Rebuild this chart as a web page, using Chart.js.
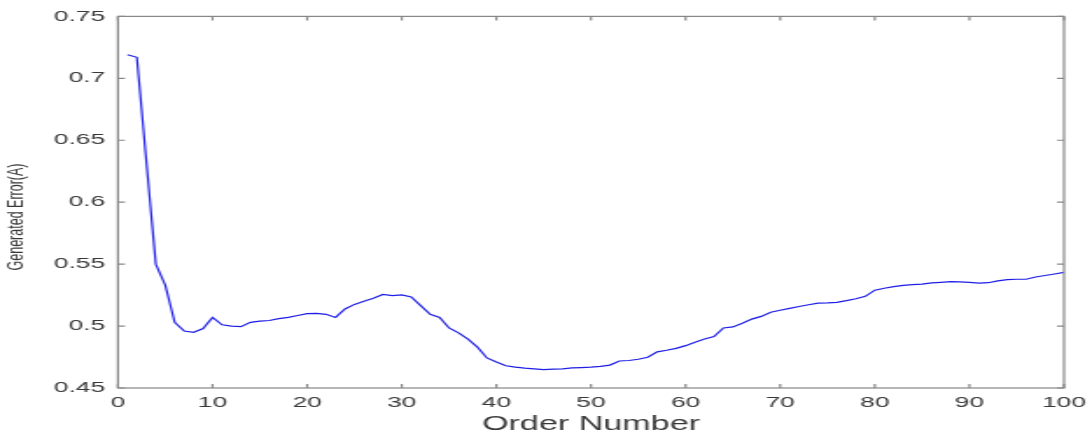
<!DOCTYPE html>
<html>
<head>
<meta charset="utf-8">
<script src="https://cdn.jsdelivr.net/npm/chart.js@4"></script>
<style>
  html, body { margin: 0; padding: 0; background: #fff; overflow: hidden; }
  #wrap { width: 1092px; height: 436px; }
  /* the reference is stretched sideways, so draw narrow and stretch */
  #errorChart { transform: scaleX(1.75); transform-origin: 0 0; display: block; }
</style>
</head>
<body>
<div id="wrap"><canvas id="errorChart" width="624" height="436"></canvas></div>
<script>
const orderNumbers = Array.from({ length: 100 }, (_, i) => i + 1);
const errorValues = [
  0.719, 0.717, 0.633, 0.550, 0.533, 0.503, 0.496, 0.495, 0.498, 0.507,
  0.501, 0.500, 0.4995, 0.503, 0.504, 0.5045, 0.506, 0.507, 0.5085, 0.510,
  0.5103, 0.5095, 0.507, 0.5138, 0.5175, 0.520, 0.5225, 0.5255, 0.5246, 0.5252,
  0.5235, 0.5165, 0.5095, 0.507, 0.4985, 0.4945, 0.4895, 0.483, 0.4743, 0.471,
  0.468, 0.4668, 0.466, 0.4655, 0.4648, 0.4652, 0.4655, 0.4662, 0.4665, 0.4668,
  0.4675, 0.4685, 0.4718, 0.4722, 0.4732, 0.4748, 0.4792, 0.4805, 0.482, 0.4842,
  0.487, 0.4895, 0.4916, 0.4985, 0.4993, 0.5022, 0.5056, 0.5078, 0.5112, 0.5128,
  0.5143, 0.5158, 0.5172, 0.5185, 0.5188, 0.5192, 0.5205, 0.522, 0.524, 0.529,
  0.5305, 0.5318, 0.5328, 0.5334, 0.5338, 0.5348, 0.5353, 0.5358, 0.5356, 0.5352,
  0.5346, 0.535, 0.5365, 0.5375, 0.5378, 0.5378, 0.5396, 0.5408, 0.542, 0.5433
];
const xTicks = [0, 10, 20, 30, 40, 50, 60, 70, 80, 90, 100];
const yTicks = [0.45, 0.5, 0.55, 0.6, 0.65, 0.7, 0.75];

const axisGray = '#878787';
const textGray = '#383838';
const fontFamily = '"Liberation Sans", Arial, sans-serif';

// box round the plot plus MATLAB style inward ticks on all four sides
const boxPlugin = {
  id: 'boxPlugin',
  afterDraw(chart) {
    const { ctx, chartArea: a, scales } = chart;
    ctx.save();
    ctx.strokeStyle = axisGray;
    ctx.lineWidth = 1.2;
    ctx.strokeRect(a.left, a.top, a.right - a.left, a.bottom - a.top);
    ctx.beginPath();
    scales.x.ticks.forEach(t => {
      const px = scales.x.getPixelForValue(t.value);
      ctx.moveTo(px, a.bottom); ctx.lineTo(px, a.bottom - 4);
      ctx.moveTo(px, a.top); ctx.lineTo(px, a.top + 4);
    });
    scales.y.ticks.forEach(t => {
      const py = scales.y.getPixelForValue(t.value);
      ctx.moveTo(a.left, py); ctx.lineTo(a.left + 4, py);
      ctx.moveTo(a.right, py); ctx.lineTo(a.right - 4, py);
    });
    ctx.stroke();

    // y label sits a bit below the middle in the reference
    ctx.translate(9.7, 217);
    ctx.rotate(-Math.PI / 2);
    ctx.fillStyle = textGray;
    ctx.font = '12.5px ' + fontFamily;
    ctx.textAlign = 'center';
    ctx.textBaseline = 'middle';
    ctx.fillText('Generated Error(A)', 0, 0);
    ctx.restore();
  }
};

const ctx = document.getElementById('errorChart').getContext('2d');
const errorChart = new Chart(ctx, {
  type: 'line',
  data: {
    datasets: [{
      label: 'Generated Error',
      data: orderNumbers.map((n, i) => ({ x: n, y: errorValues[i] })),
      borderColor: 'rgb(30, 30, 230)',
      borderWidth: 1.2,
      pointRadius: 0,
      tension: 0,
      fill: false
    }]
  },
  options: {
    responsive: false,
    animation: false,
    layout: { padding: { top: 14, right: 16, bottom: 0, left: 0 } },
    plugins: {
      legend: { display: false },
      tooltip: { enabled: false }
    },
    scales: {
      x: {
        type: 'linear',
        min: 0,
        max: 100,
        afterBuildTicks: s => { s.ticks = xTicks.map(v => ({ value: v })); },
        afterFit: s => { s.height = 48; s.paddingRight = 0; s.paddingLeft = 0; },
        grid: { display: false, drawTicks: false },
        border: { display: false },
        ticks: {
          padding: 6,
          color: textGray,
          font: { family: fontFamily, size: 15 },
          maxRotation: 0,
          callback: v => String(v)
        },
        title: {
          display: true,
          text: 'Order Number',
          color: textGray,
          font: { family: fontFamily, size: 19.5 },
          padding: { top: 0, bottom: 0 }
        }
      },
      y: {
        min: 0.45,
        max: 0.75,
        afterBuildTicks: s => { s.ticks = yTicks.map(v => ({ value: v })); },
        afterFit: s => { s.width = 67.4; },
        grid: { display: false, drawTicks: false },
        border: { display: false },
        ticks: {
          padding: 7.4,
          color: textGray,
          font: { family: fontFamily, size: 15 },
          callback: v => String(Number(v.toFixed(2)))
        }
      }
    }
  },
  plugins: [boxPlugin]
});
</script>
</body>
</html>
